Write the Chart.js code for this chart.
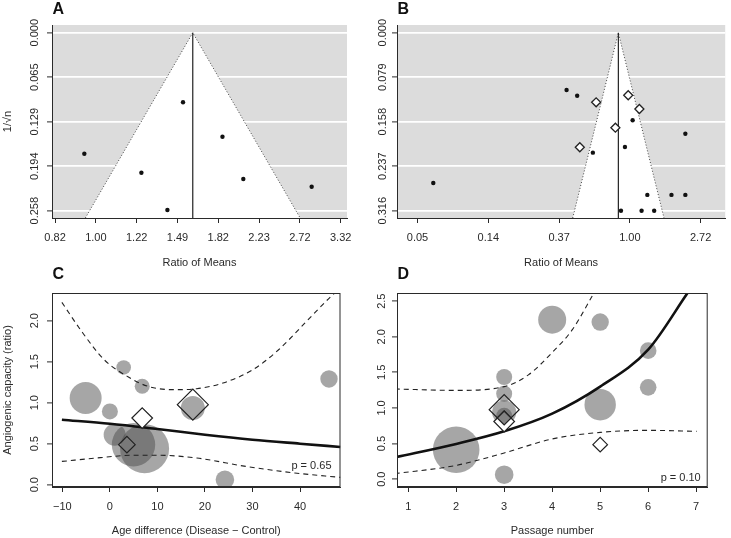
<!DOCTYPE html>
<html>
<head>
<meta charset="utf-8">
<title>Funnel plots and meta-regression of angiogenic capacity</title>
<script src="https://cdn.jsdelivr.net/npm/chart.js@4.4.1/dist/chart.umd.min.js"></script>
<style>
  html, body { margin:0; padding:0; background:#fff; }
  body { position:relative; width:731px; height:538px; overflow:hidden; }
  canvas { position:absolute; display:block; }
</style>
</head>
<body>
<canvas id="chartA" width="365" height="270" style="left:0;top:0"></canvas>
<canvas id="chartB" width="366" height="270" style="left:365px;top:0"></canvas>
<canvas id="chartC" width="365" height="288" style="left:0;top:250px"></canvas>
<canvas id="chartD" width="366" height="288" style="left:365px;top:250px"></canvas>
<script>
// ================= DATA =================
// Panel A: funnel plot (x: ratio of means, log scale; y: 1/sqrt(n))
const aStudyRatio    = [0.945, 1.533, 1.25, 1.42, 1.86, 2.06, 2.88];
const aStudyInvSqrtN = [0.1754, 0.1009, 0.2029, 0.257, 0.1507, 0.212, 0.2232];
const aPooledRatio   = 1.608;
const aXTickLog      = [-0.2, 0, 0.2, 0.4, 0.6, 0.8, 1.0, 1.2];
const aXTickLabels   = ['0.82', '1.00', '1.22', '1.49', '1.82', '2.23', '2.72', '3.32'];
const aYTicks        = [0, 0.0645, 0.129, 0.1935, 0.258];
const aYTickLabels   = ['0.000', '0.065', '0.129', '0.194', '0.258'];

// Panel B: funnel plot with filled-in (trim-and-fill) studies as diamonds
const bStudyRatio    = [0.0622, 0.409, 0.475, 0.593, 0.933, 1.04, 1.28, 1.80, 2.19, 2.19, 0.882, 1.18, 1.41];
const bStudyInvSqrtN = [0.2668, 0.1017, 0.1118, 0.213, 0.2029, 0.1555, 0.288, 0.288, 0.288, 0.1793, 0.316, 0.316, 0.316];
const bFilledRatio    = [0.621, 0.977, 1.144, 0.815, 0.493];
const bFilledInvSqrtN = [0.1236, 0.111, 0.1354, 0.1686, 0.2034];
const bPooledRatio   = 0.85;
const bXTickLog      = [-3, -2, -1, 0, 1];
const bXTickLabels   = ['0.05', '0.14', '0.37', '1.00', '2.72'];
const bYTicks        = [0, 0.079, 0.158, 0.237, 0.316];
const bYTickLabels   = ['0.000', '0.079', '0.158', '0.237', '0.316'];

// Panel C: meta-regression on age difference
const cAgeDiff   = [-5.1, 2.9, 6.8, 0, 1, 4.97, 7.3, 24.2, 46.1, 17.45];
const cRatio     = [1.057, 1.43, 1.2, 0.894, 0.61, 0.488, 0.44, 0.06, 1.29, 0.935];
const cWeight    = [16, 7.3, 7.5, 8, 11, 21.7, 24.5, 9.3, 8.7, 12];
const cSubAgeDiff = [17.45, 6.8, 3.58];
const cSubRatio   = [0.976, 0.813, 0.488];
const cSubWeight  = [15.5, 10.3, 8.3];
const cFitX   = [-10.1, 0, 10, 20, 30, 40, 48.5];
const cFitY   = [0.793, 0.744, 0.679, 0.61, 0.549, 0.5, 0.46];
const cUpperX = [-10.1, -5.7, -1.2, 3.9, 8.05, 13.5, 18.3, 23.8, 30, 35.5, 41, 46.5, 47.3];
const cUpperY = [2.223, 1.85, 1.524, 1.313, 1.199, 1.159, 1.171, 1.24, 1.40, 1.646, 1.97, 2.296, 2.338];
const cLowerX = [-10.1, -2, 5, 10, 18.3, 28.6, 38.9, 48.5];
const cLowerY = [0.284, 0.33, 0.36, 0.36, 0.325, 0.223, 0.143, 0.089];
const cXTicks = [-10, 0, 10, 20, 30, 40];
const cXTickLabels = ['\u221210', '0', '10', '20', '30', '40'];
const cYTicks = [0, 0.5, 1, 1.5, 2];
const cYTickLabels = ['0.0', '0.5', '1.0', '1.5', '2.0'];

// Panel D: meta-regression on passage number
const dPassage = [2, 3, 3, 3, 3, 3, 4, 5, 5, 6, 6];
const dRatio   = [0.414, 0.063, 1.435, 1.2, 0.94, 0.89, 2.24, 2.207, 1.046, 1.805, 1.29];
const dWeight  = [23.3, 9.3, 8, 8, 12, 8, 14, 8.7, 15.7, 8.3, 8.3];
const dSubPassage = [3, 3, 3, 5];
const dSubRatio   = [0.976, 0.81, 0.86, 0.485];
const dSubWeight  = [15, 10.3, 7, 7.3];
const dFitX   = [0.72, 2, 3, 4, 5, 6, 6.82];
const dFitY   = [0.306, 0.495, 0.672, 0.92, 1.3, 1.82, 2.615];
const dUpperX = [0.72, 2, 3, 3.51, 4, 4.42, 4.87];
const dUpperY = [1.267, 1.247, 1.30, 1.468, 1.78, 2.1, 2.615];
const dLowerX = [0.72, 2, 3, 4, 5, 6, 7.01];
const dLowerY = [0.077, 0.194, 0.368, 0.565, 0.657, 0.686, 0.672];
const dXTicks = [1, 2, 3, 4, 5, 6, 7];
const dXTickLabels = ['1', '2', '3', '4', '5', '6', '7'];
const dYTicks = [0, 0.5, 1, 1.5, 2, 2.5];
const dYTickLabels = ['0.0', '0.5', '1.0', '1.5', '2.0', '2.5'];

// ================= STYLE / HELPERS =================
const FONT = "'Liberation Sans', Arial, Helvetica, sans-serif";
const INK = '#2a2a2a';
const BUBBLE = 'rgba(78,78,78,0.5)';

const zip = (xs, ys) => xs.map((x, i) => ({ x: x, y: ys[i] }));

function xScale(min, max, ticks, labels, title, height) {
  return {
    type: 'linear', min: min, max: max,
    afterBuildTicks: s => { s.ticks = ticks.map(v => ({ value: v })); },
    afterFit: s => { s.height = height; },
    ticks: { autoSkip: false, maxRotation: 0, minRotation: 0, padding: 8, color: INK,
             font: { family: FONT, size: 11 }, callback: (v, i) => labels[i] },
    grid: { display: true, drawOnChartArea: false, drawTicks: true, tickLength: 5, tickColor: INK, tickWidth: 1 },
    border: { display: true, color: INK, width: 1 },
    title: { display: true, text: title, color: INK, font: { family: FONT, size: 11 }, padding: { top: 0, bottom: 0 } }
  };
}

function yScale(min, max, reverse, ticks, width, gridColor, title) {
  return {
    type: 'linear', min: min, max: max, reverse: reverse,
    afterBuildTicks: s => { s.ticks = ticks.map(v => ({ value: v })); },
    afterFit: s => { s.width = width; },
    ticks: { display: false },
    grid: { display: true, drawOnChartArea: !!gridColor, color: gridColor || 'rgba(0,0,0,0)', lineWidth: 1.8,
            drawTicks: true, tickLength: 5, tickColor: INK, tickWidth: 1 },
    border: { display: true, color: INK, width: 1 },
    title: title ? { display: true, text: title, color: INK, font: { family: FONT, size: 11 }, padding: { top: 1.5, bottom: 0 } }
                 : { display: false }
  };
}

function panelPlugin(cfg) {
  return {
    id: 'panel' + cfg.letter,
    beforeDraw(chart) {
      if (!cfg.bg) return;
      const { ctx, chartArea: a } = chart;
      ctx.save();
      ctx.fillStyle = cfg.bg;
      ctx.fillRect(a.left, a.top, a.right - a.left, a.bottom - a.top);
      ctx.restore();
    },
    afterDatasetsDraw(chart) {
      if (!cfg.box) return;
      const { ctx, chartArea: a } = chart;
      ctx.save();
      ctx.strokeStyle = INK; ctx.lineWidth = 1;
      ctx.strokeRect(a.left + 0.5, a.top + 0.5, a.right - a.left - 1, a.bottom - a.top - 1);
      ctx.restore();
    },
    afterDraw(chart) {
      const { ctx, chartArea: a } = chart;
      const ys = chart.scales.y;
      ctx.save();
      // rotated y tick labels (R style, parallel to axis)
      ctx.font = '11px ' + FONT;
      ctx.fillStyle = INK;
      ctx.textAlign = 'center';
      ctx.textBaseline = 'middle';
      cfg.yTicks.forEach((v, i) => {
        const py = ys.getPixelForValue(v);
        ctx.save();
        ctx.translate(a.left - cfg.yLabelOffset, py);
        ctx.rotate(-Math.PI / 2);
        ctx.fillText(cfg.yLabels[i], 0, 0);
        ctx.restore();
      });
      // panel letter
      ctx.font = 'bold 16px ' + FONT;
      ctx.fillStyle = '#111';
      ctx.textAlign = 'left';
      ctx.textBaseline = 'alphabetic';
      ctx.fillText(cfg.letter, a.left + 0.5, cfg.letterY);
      // p-value note
      if (cfg.note) {
        ctx.font = '11px ' + FONT;
        ctx.fillStyle = INK;
        ctx.textAlign = 'right';
        ctx.textBaseline = 'middle';
        ctx.fillText(cfg.note, a.right - cfg.noteDx, a.bottom - cfg.noteDy);
      }
      ctx.restore();
    }
  };
}

const baseOptions = (padding) => ({
  responsive: false,
  animation: false,
  events: [],
  layout: { padding: padding },
  plugins: { legend: { display: false }, tooltip: { enabled: false }, title: { display: false } }
});

// ================= FUNNEL PANELS =================
function funnelChart(id, p) {
  const lnP = Math.log(p.pooled);
  const base = p.yMax;
  const datasets = [
    { type: 'scatter', order: 0, data: zip(p.ratio.map(Math.log), p.inv),
      pointRadius: 2.2, pointBackgroundColor: '#111', pointBorderWidth: 0 }
  ];
  if (p.fillRatio) {
    datasets.push({ type: 'scatter', order: 0, data: zip(p.fillRatio.map(Math.log), p.fillInv),
      pointStyle: 'rectRot', pointRadius: 4.5, pointBackgroundColor: '#fff', pointBorderColor: '#222', pointBorderWidth: 1.3 });
  }
  datasets.push({ type: 'line', order: 1, data: [{ x: lnP, y: 0 }, { x: lnP, y: base }],
    borderColor: '#222', borderWidth: 1.2, pointRadius: 0, fill: false });
  datasets.push({ type: 'line', order: 2,
    data: [{ x: lnP - 1.96 * base, y: base }, { x: lnP, y: 0 }, { x: lnP + 1.96 * base, y: base }],
    borderColor: '#444', borderWidth: 1, borderDash: [1, 2], pointRadius: 0, tension: 0,
    fill: 'start', backgroundColor: '#ffffff' });

  const opts = baseOptions(p.padding);
  opts.scales = {
    x: xScale(p.xMin, p.xMax, p.xTicks, p.xLabels, 'Ratio of Means', 52),
    y: yScale(p.yMin, p.yMax, true, p.yTicks, p.yWidth, '#ffffff', p.yTitle)
  };
  return new Chart(document.getElementById(id), {
    type: 'scatter', data: { datasets: datasets }, options: opts,
    plugins: [panelPlugin({ letter: p.letter, letterY: 13.5, bg: '#dcdcdc', box: false,
      yTicks: p.yTicks, yLabels: p.yLabels, yLabelOffset: p.yLabelOffset })]
  });
}

funnelChart('chartA', {
  letter: 'A', ratio: aStudyRatio, inv: aStudyInvSqrtN, pooled: aPooledRatio,
  xMin: -0.215, xMax: 1.231, xTicks: aXTickLog, xLabels: aXTickLabels,
  yMin: -0.0112, yMax: 0.2686, yTicks: aYTicks, yLabels: aYTickLabels,
  yWidth: 52, yTitle: '1/\u221An', yLabelOffset: 17,
  padding: { top: 25, right: 18, left: 0, bottom: 0 }
});

funnelChart('chartB', {
  letter: 'B', ratio: bStudyRatio, inv: bStudyInvSqrtN, pooled: bPooledRatio,
  fillRatio: bFilledRatio, fillInv: bFilledInvSqrtN,
  xMin: -3.29, xMax: 1.347, xTicks: bXTickLog, xLabels: bXTickLabels,
  yMin: -0.0137, yMax: 0.329, yTicks: bYTicks, yLabels: bYTickLabels,
  yWidth: 32, yTitle: null, yLabelOffset: 14,
  padding: { top: 25, right: 0, left: 0, bottom: 0 }
});

// ================= REGRESSION PANELS =================
function regressionChart(id, p) {
  const datasets = [
    { type: 'scatter', order: 0, data: zip(p.subX, p.subY), pointStyle: 'rectRot',
      pointRadius: p.subW, pointBackgroundColor: p.subFill, pointBorderColor: '#222', pointBorderWidth: 1.2 },
    { type: 'line', order: 1, data: zip(p.fitX, p.fitY), borderColor: '#111', borderWidth: 2.6,
      pointRadius: 0, cubicInterpolationMode: 'monotone', fill: false },
    { type: 'line', order: 1, data: zip(p.upX, p.upY), borderColor: '#222', borderWidth: 1.1, borderDash: [5, 4],
      pointRadius: 0, cubicInterpolationMode: 'monotone', fill: false },
    { type: 'line', order: 1, data: zip(p.loX, p.loY), borderColor: '#222', borderWidth: 1.1, borderDash: [5, 4],
      pointRadius: 0, cubicInterpolationMode: 'monotone', fill: false },
    { type: 'bubble', order: 5, data: p.x.map((x, i) => ({ x: x, y: p.y[i], r: p.w[i] })),
      backgroundColor: BUBBLE, borderWidth: 0 }
  ];
  const opts = baseOptions(p.padding);
  opts.scales = {
    x: xScale(p.xMin, p.xMax, p.xTicks, p.xLabels, p.xTitle, 51),
    y: yScale(p.yMin, p.yMax, false, p.yTicks, p.yWidth, null, p.yTitle)
  };
  return new Chart(document.getElementById(id), {
    type: 'scatter', data: { datasets: datasets }, options: opts,
    plugins: [panelPlugin({ letter: p.letter, letterY: 28.5, bg: null, box: true,
      yTicks: p.yTicks, yLabels: p.yLabels, yLabelOffset: p.yLabelOffset,
      note: p.note, noteDx: p.noteDx, noteDy: p.noteDy })]
  });
}

regressionChart('chartC', {
  letter: 'C', x: cAgeDiff, y: cRatio, w: cWeight,
  subX: cSubAgeDiff, subY: cSubRatio, subW: cSubWeight, subFill: ['rgba(0,0,0,0)', '#ffffff', 'rgba(0,0,0,0)'],
  fitX: cFitX, fitY: cFitY, upX: cUpperX, upY: cUpperY, loX: cLowerX, loY: cLowerY,
  xMin: -12.18, xMax: 48.52, xTicks: cXTicks, xLabels: cXTickLabels, xTitle: 'Age difference (Disease \u2212 Control)',
  yMin: -0.028, yMax: 2.338, yTicks: cYTicks, yLabels: cYTickLabels,
  yWidth: 52, yTitle: 'Angiogenic capacity (ratio)', yLabelOffset: 17,
  note: 'p = 0.65', noteDx: 9, noteDy: 21.5,
  padding: { top: 43, right: 18, left: 0, bottom: 0 }
});

regressionChart('chartD', {
  letter: 'D', x: dPassage, y: dRatio, w: dWeight,
  subX: dSubPassage, subY: dSubRatio, subW: dSubWeight,
  subFill: ['rgba(0,0,0,0)', '#ffffff', 'rgba(90,90,90,0.75)', '#ffffff'],
  fitX: dFitX, fitY: dFitY, upX: dUpperX, upY: dUpperY, loX: dLowerX, loY: dLowerY,
  xMin: 0.767, xMax: 7.24, xTicks: dXTicks, xLabels: dXTickLabels, xTitle: 'Passage number',
  yMin: -0.11, yMax: 2.615, yTicks: dYTicks, yLabels: dYTickLabels,
  yWidth: 32, yTitle: null, yLabelOffset: 15,
  note: 'p = 0.10', noteDx: 7, noteDy: 9,
  padding: { top: 43, right: 1, left: 0, bottom: 0 }
});
</script>
</body>
</html>
